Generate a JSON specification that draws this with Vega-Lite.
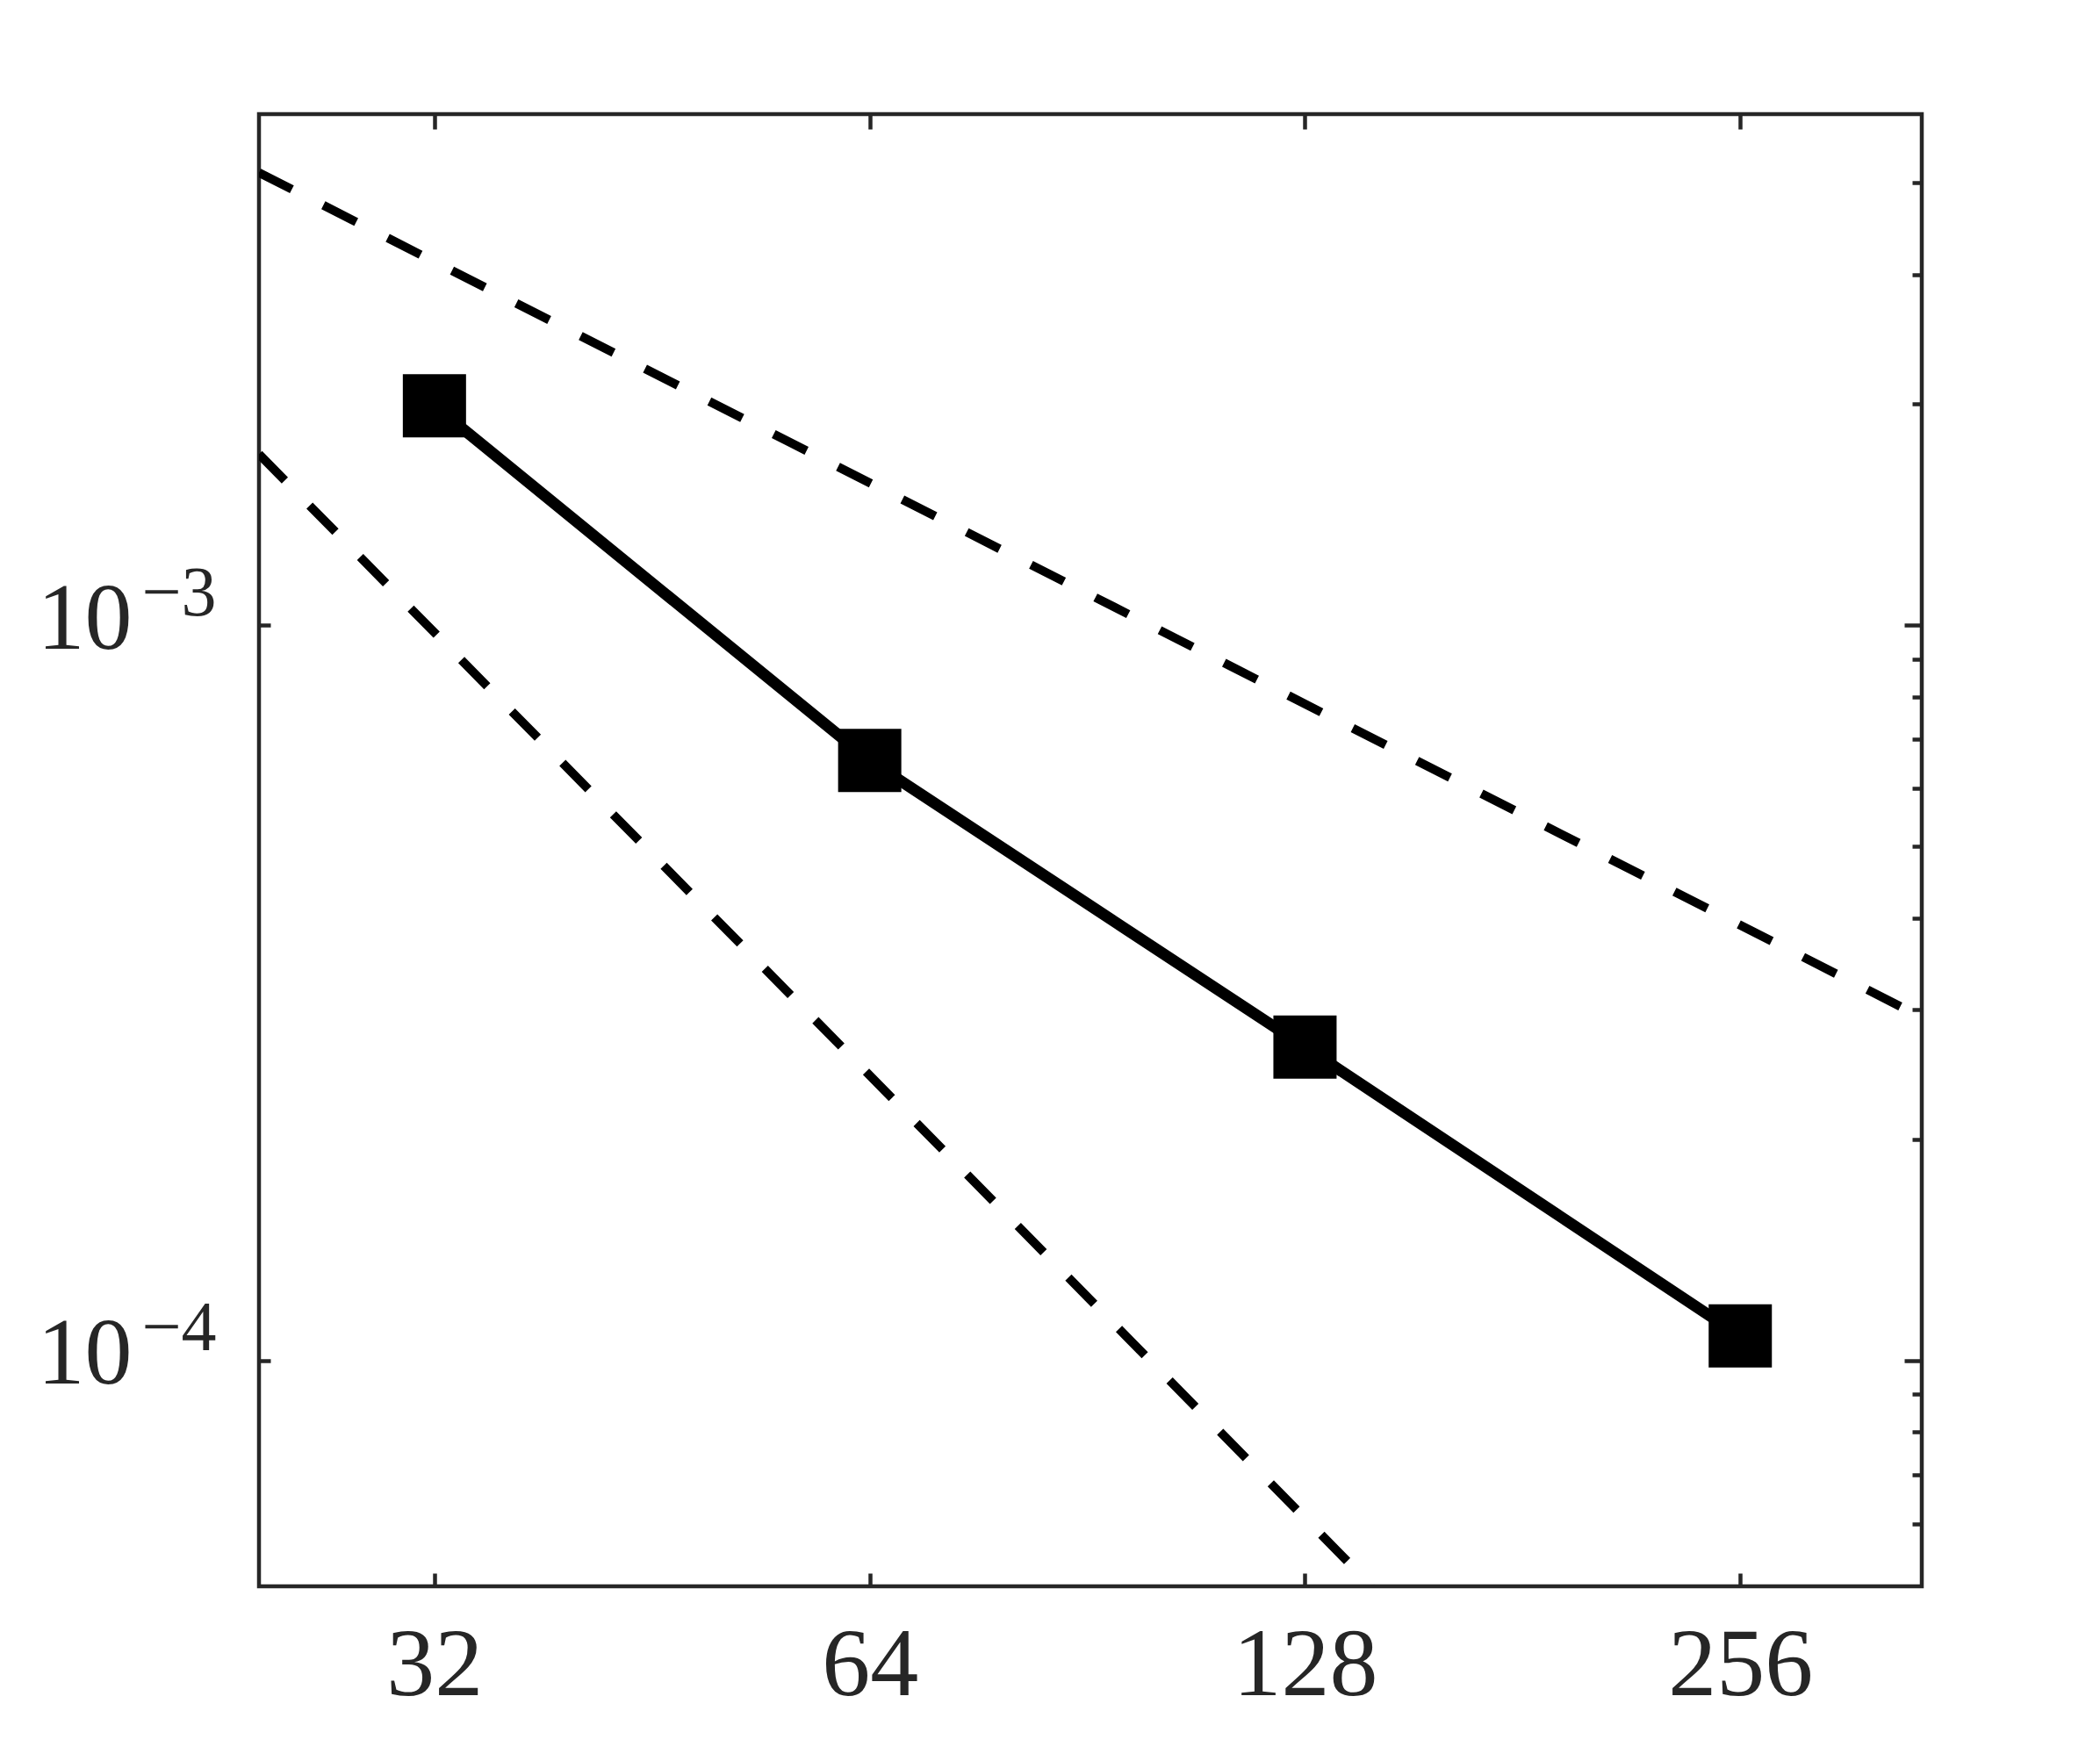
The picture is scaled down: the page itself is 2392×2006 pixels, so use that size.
{
  "$schema": "https://vega.github.io/schema/vega-lite/v6.json",
  "width": 1894,
  "height": 1677,
  "autosize": {"type": "none"},
  "padding": {"left": 295, "top": 130, "right": 203, "bottom": 199},
  "background": "white",
  "config": {
    "view": {"stroke": "#262626", "strokeWidth": 4.5},
    "axis": {
      "domain": false,
      "grid": false,
      "title": null,
      "labelFont": "Liberation Serif",
      "labelFontSize": 110,
      "labelColor": "#262626",
      "tickColor": "#262626",
      "tickWidth": 4.5,
      "labelOverlap": false,
      "labelFlush": false,
      "labelBound": false,
      "labelLimit": 0
    }
  },
  "datasets": {
    "conv": [
      {"N": 32, "err": 0.00199},
      {"N": 64, "err": 0.000655},
      {"N": 128, "err": 0.000267},
      {"N": 256, "err": 0.000108}
    ],
    "first": [
      {"N": 24.2, "err": 0.00413},
      {"N": 341.8, "err": 0.000293}
    ],
    "second": [
      {"N": 24.2, "err": 0.00171},
      {"N": 142.4, "err": 0.0000493}
    ]
  },
  "resolve": {"axis": {"x": "independent", "y": "independent"}},
  "layer": [
    {
      "data": {"name": "first"},
      "mark": {"type": "line", "color": "black", "strokeWidth": 10, "strokeDash": [42, 40.2], "strokeCap": "butt", "clip": true},
      "encoding": {
        "x": {"field": "N", "type": "quantitative", "scale": {"type": "log", "base": 2, "domain": [24.2, 341.8], "nice": false}, "axis": null},
        "y": {
          "field": "err", "type": "quantitative",
          "scale": {"type": "log", "domain": [0.0000493, 0.00496], "nice": false},
          "axis": {"orient": "right", "values": [0.0001, 0.001], "labels": false, "offset": -20, "tickSize": 20}
        }
      }
    },
    {
      "data": {"name": "second"},
      "mark": {"type": "line", "color": "black", "strokeWidth": 10, "strokeDash": [42, 40.2], "strokeCap": "butt", "clip": true},
      "encoding": {
        "x": {"field": "N", "type": "quantitative", "scale": {"type": "log", "base": 2, "domain": [24.2, 341.8], "nice": false}, "axis": null},
        "y": {
          "field": "err", "type": "quantitative",
          "scale": {"type": "log", "domain": [0.0000493, 0.00496], "nice": false},
          "axis": {"orient": "left", "values": [0.0001, 0.001], "ticks": false, "labelExpr": "datum.value < 0.0005 ? '−4' : '−3'", "labelFontSize": 80, "labelPadding": 49, "labelOffset": -36, "labelAlign": "right", "labelBaseline": "middle"}
        }
      }
    },
    {
      "data": {"name": "conv"},
      "mark": {"type": "line", "color": "black", "strokeWidth": 13},
      "encoding": {
        "x": {
          "field": "N", "type": "quantitative",
          "scale": {"type": "log", "base": 2, "domain": [24.2, 341.8], "nice": false},
          "axis": {"orient": "bottom", "values": [32, 64, 128, 256], "format": "d", "offset": -15, "tickSize": 15, "labelPadding": 36}
        },
        "y": {
          "field": "err", "type": "quantitative",
          "scale": {"type": "log", "domain": [0.0000493, 0.00496], "nice": false},
          "axis": {"orient": "left", "values": [0.0001, 0.001], "labelExpr": "'10'", "labelFontSize": 108, "offset": -13, "tickSize": 13, "labelPadding": 145, "labelOffset": -6, "labelAlign": "right", "labelBaseline": "middle"}
        }
      }
    },
    {
      "data": {"name": "conv"},
      "mark": {"type": "point", "shape": "square", "filled": true, "color": "black", "size": 5184, "opacity": 1},
      "encoding": {
        "x": {
          "field": "N", "type": "quantitative",
          "scale": {"type": "log", "base": 2, "domain": [24.2, 341.8], "nice": false},
          "axis": {"orient": "top", "values": [32, 64, 128, 256], "labels": false, "offset": -17, "tickSize": 17}
        },
        "y": {
          "field": "err", "type": "quantitative",
          "scale": {"type": "log", "domain": [0.0000493, 0.00496], "nice": false},
          "axis": {
            "orient": "right",
            "values": [0.00006, 0.00007, 0.00008, 0.00009, 0.0002, 0.0003, 0.0004, 0.0005, 0.0006, 0.0007, 0.0008, 0.0009, 0.002, 0.003, 0.004],
            "labels": false,
            "offset": -11,
            "tickSize": 11
          }
        }
      }
    }
  ]
}
